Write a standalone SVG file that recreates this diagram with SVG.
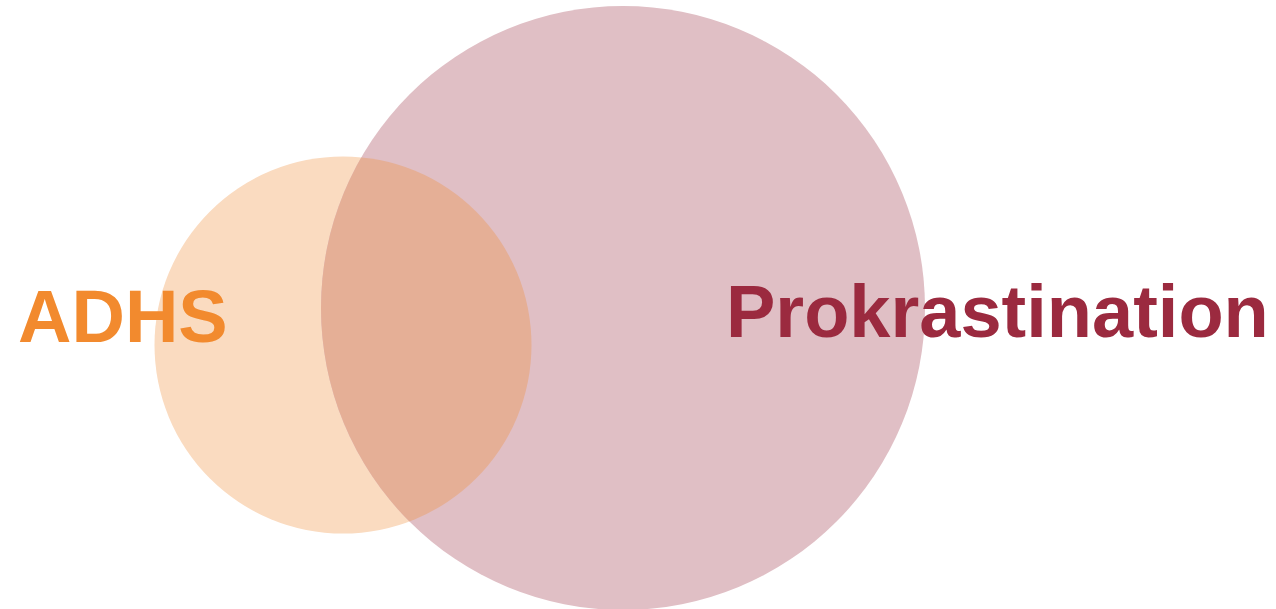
<svg xmlns="http://www.w3.org/2000/svg" width="1276" height="609" viewBox="0 0 1276 609">
<style>
.lbl{font-family:"Liberation Sans",Arial,sans-serif;font-weight:bold;font-size:74px}
</style>
<defs>
<clipPath id="clipBig"><circle cx="623" cy="308" r="302"/></clipPath>
</defs>
<rect width="1276" height="609" fill="#ffffff"/>
<g id="adhs-circle"><circle cx="343" cy="345" r="188.5" fill="#FADBC0"/></g>
<g id="prok-circle"><circle cx="623" cy="308" r="302" fill="#E0BFC5"/></g>
<g id="overlap"><circle cx="343" cy="345" r="188.5" fill="#E5AF96" clip-path="url(#clipBig)"/></g>
<g id="adhs-label"><text class="lbl" x="18" y="342" fill="#F28A2E">ADHS</text></g>
<g id="prok-label"><text class="lbl" x="726" y="337" fill="#9B2A3F">Prokrastination</text></g>
<g id="connectors"></g>
</svg>
